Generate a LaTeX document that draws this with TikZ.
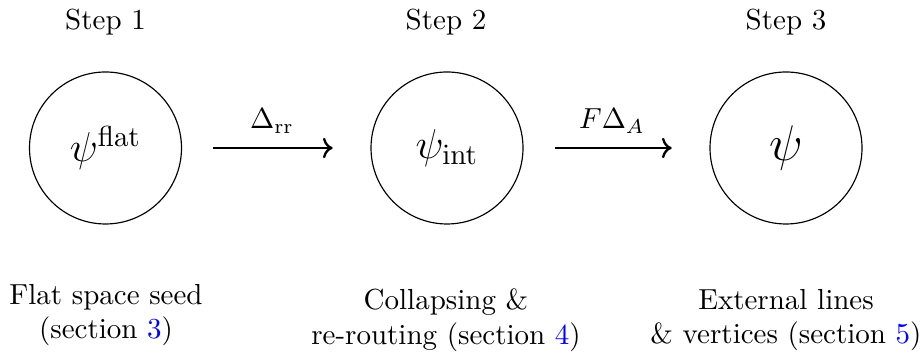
\documentclass[tikz,border=0pt]{standalone}
\usetikzlibrary{arrows.meta}
\begin{document}
\begin{tikzpicture}[x=0.3448pt,y=-0.3448pt,
  stage/.style={draw, circle, minimum size=152*0.3448pt, inner sep=0pt, font=\Large},
  steplabel/.style={inner sep=0pt},
  desc/.style={align=center, inner sep=0pt},
  flow/.style={->, thick, shorten <=10.7pt, shorten >=13pt},
  arrlabel/.style={inner sep=0pt}]
\useasboundingbox (0,0) rectangle (922,354);
\node[stage] (c1) at (105.5,148) {$\psi^{\mathrm{flat}}$};
\node[stage] (c2) at (447,148) {$\psi_{\mathrm{int}}$};
\node[stage, font=\fontsize{16.5}{20}\selectfont] (c3) at (786,148) {$\psi$};
\node[steplabel] (s1) at (105.5,22) {Step 1};
\node[steplabel] (s2) at (446,22) {Step 2};
\node[steplabel] (s3) at (786,22) {Step 3};
\draw[flow] (c1) -- (c2);
\draw[flow] (c2) -- (c3);
\node[arrlabel] (l1) at (272,121) {$\Delta_{\mathrm{rr}}$};
\node[arrlabel] (l2) at (612,121) {$F\Delta_A$};
\node[desc] (d1) at (106,315) {Flat space seed\\(section \textcolor{blue}{3})};
\node[desc] (d2) at (446,320) {Collapsing \&\\re-routing (section \textcolor{blue}{4})};
\node[desc] (d3) at (786,320) {External lines\\\& vertices (section \textcolor{blue}{5})};
\end{tikzpicture}
\end{document}
